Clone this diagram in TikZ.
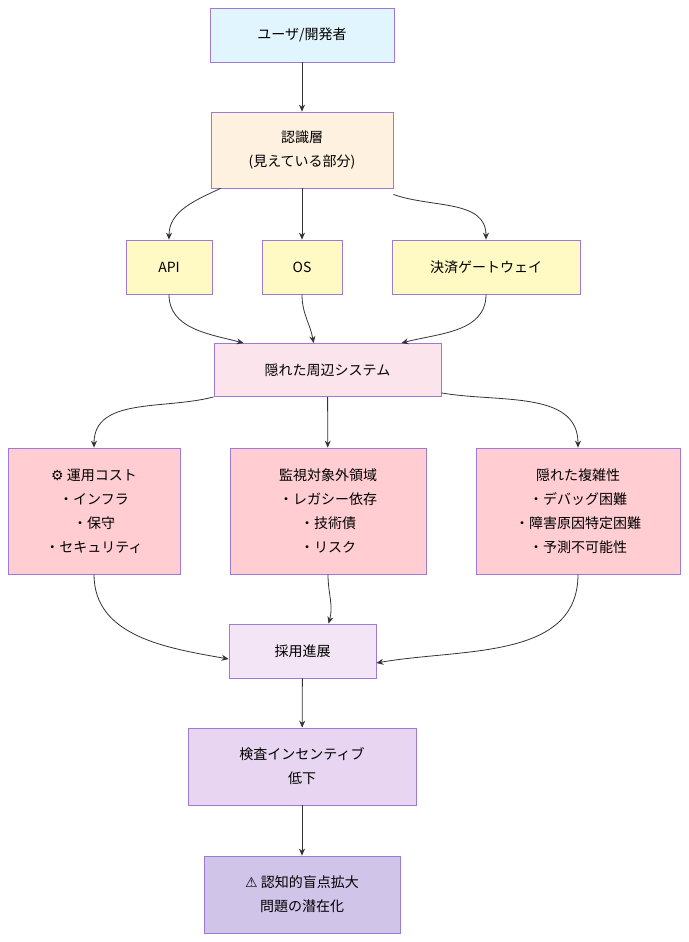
\documentclass[tikz,border=0pt]{standalone}
\usepackage{fontspec}
\setmainfont{Noto Sans CJK JP}
\newfontfamily\emo{DejaVu Sans}
\usetikzlibrary{arrows.meta}
\definecolor{bd}{HTML}{9C7BD6}
\definecolor{cUser}{HTML}{E1F5FE}
\definecolor{cRec}{HTML}{FFF1E0}
\definecolor{cApi}{HTML}{FFF9C4}
\definecolor{cHid}{HTML}{FCE4EC}
\definecolor{cRisk}{HTML}{FFCDD2}
\definecolor{cAdo}{HTML}{F3E5F5}
\definecolor{cInc}{HTML}{E7D5F1}
\definecolor{cBli}{HTML}{D1C4E9}
\tikzset{
  box/.style={draw=bd, line width=0.8pt, align=center, inner sep=0pt,
    font=\fontsize{14}{24}\selectfont},
  link/.style={-{Stealth[length=7pt,width=6pt]}, draw=black!80, line width=0.8pt}
}
\begin{document}
\begin{tikzpicture}[x=1pt, y=-1pt]
  \useasboundingbox (0,0) rectangle (688,942);
  % layer nodes
  \node[box, fill=cUser, minimum width=184pt, minimum height=54pt] (user) at (302,35) {ユーザ/開発者};
  \node[box, fill=cRec, minimum width=182pt, minimum height=76pt] (rec) at (302,150) {認識層\\(見えている部分)};
  \node[box, fill=cApi, minimum width=86pt, minimum height=54pt] (api) at (169,267) {API};
  \node[box, fill=cApi, minimum width=80pt, minimum height=54pt] (os) at (302,267) {OS};
  \node[box, fill=cApi, minimum width=188pt, minimum height=54pt] (pay) at (486,267) {決済ゲートウェイ};
  \node[box, fill=cHid, minimum width=227pt, minimum height=53pt] (hid) at (327.5,370) {隠れた周辺システム};
  \node[box, fill=cRisk, minimum width=172pt, minimum height=126pt] (cost) at (94,511) {{\emo ⚙️} 運用コスト\\・インフラ\\・保守\\・セキュリティ};
  \node[box, fill=cRisk, minimum width=196pt, minimum height=126pt] (mon) at (328,511) {監視対象外領域\\・レガシー依存\\・技術債\\・リスク};
  \node[box, fill=cRisk, minimum width=204pt, minimum height=126pt] (cpx) at (578,511) {隠れた複雑性\\・デバッグ困難\\・障害原因特定困難\\・予測不可能性};
  \node[box, fill=cAdo, minimum width=147pt, minimum height=54pt] (ado) at (302.5,651) {採用進展};
  \node[box, fill=cInc, minimum width=228pt, minimum height=77pt] (inc) at (302,766.5) {検査インセンティブ\\低下};
  \node[box, fill=cBli, minimum width=196pt, minimum height=77pt] (bli) at (302,894.5) {{\emo ⚠️} 認知的盲点拡大\\問題の潜在化};
  % connectors
  \draw[link] (user) -- (rec);
  \draw[link] ([xshift=10pt]rec.south west) to[out=-155, in=90] (api.north);
  \draw[link] (rec) -- (os);
  \draw[link] ([yshift=-6pt]rec.south east) to[out=-20, in=90] (pay.north);
  \draw[link] (api.south) to[out=-90, in=165] ([xshift=30pt]hid.north west);
  \draw[link] (os.south) to[out=-90, in=100] ([xshift=100pt]hid.north west);
  \draw[link] (pay.south) to[out=-90, in=15] ([xshift=-40pt]hid.north east);
  \draw[link] (hid.south west) to[out=-165, in=90] (cost.north);
  \draw[link] (hid) -- (mon);
  \draw[link] ([yshift=4pt]hid.south east) to[out=-10, in=90] (cpx.north);
  \draw[link] (cost.south) to[out=-90, in=170] ([yshift=-8pt]ado.west);
  \draw[link] (mon.south) to[out=-90, in=75] ([xshift=100pt]ado.north west);
  \draw[link] (cpx.south) to[out=-90, in=10] ([yshift=-12pt]ado.east);
  \draw[link] (ado) -- (inc);
  \draw[link] (inc) -- (bli);
\end{tikzpicture}
\end{document}
